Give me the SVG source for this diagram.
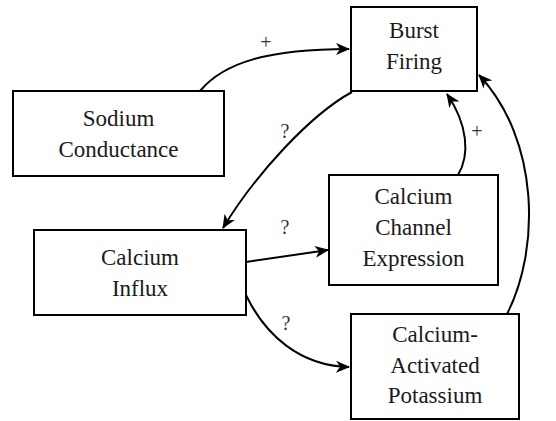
<svg xmlns="http://www.w3.org/2000/svg" width="556" height="421" viewBox="0 0 556 421">
<style>
.box{fill:#fff;stroke:#000;stroke-width:2}
.t{fill:#1a1a1a;text-anchor:middle;font-family:'Liberation Serif','Times New Roman','DejaVu Serif',serif;font-size:23px}
.lbl{fill:#333;text-anchor:middle;font-family:'Liberation Serif','Times New Roman','DejaVu Serif',serif;font-size:20px}
.edge{fill:none;stroke:#000;stroke-width:2;marker-end:url(#arr)}
</style>
<defs>
<marker id="arr" viewBox="0 0 14 12" refX="13" refY="6" markerWidth="14" markerHeight="12" markerUnits="userSpaceOnUse" orient="auto">
<path d="M0,0 L14,6 L0,12 L4,6 z" fill="#000"/>
</marker>
</defs>
<rect width="556" height="421" fill="#fff"/>
<g id="connectors">
<path class="edge" d="M200,91 C224,62 270,49 349,49"/>
<path class="edge" d="M352,92 C310,115 255,175 223,228"/>
<path class="edge" d="M246,262 L328,250"/>
<path class="edge" d="M246,295 C265,335 300,366 349,367"/>
<path class="edge" d="M458,175 C470,155 468,125 447,94"/>
<path class="edge" d="M507,314 C540,250 540,140 479,75"/>
<text class="lbl" x="266" y="49">+</text>
<text class="lbl" x="285" y="138">?</text>
<text class="lbl" x="285" y="234">?</text>
<text class="lbl" x="286" y="330">?</text>
<text class="lbl" x="477" y="138">+</text>
</g>
<g id="burst">
<rect class="box" x="351" y="7" width="126" height="84"/>
<text class="t" x="414" y="38">Burst</text>
<text class="t" x="414" y="69">Firing</text>
</g>
<g id="sodium">
<rect class="box" x="13" y="91" width="211" height="85"/>
<text class="t" x="118.5" y="126">Sodium</text>
<text class="t" x="118.5" y="157">Conductance</text>
</g>
<g id="channel">
<rect class="box" x="329" y="175" width="169" height="110"/>
<text class="t" x="413.5" y="204">Calcium</text>
<text class="t" x="413.5" y="235">Channel</text>
<text class="t" x="413.5" y="266">Expression</text>
</g>
<g id="influx">
<rect class="box" x="34" y="230" width="212" height="85"/>
<text class="t" x="140" y="265">Calcium</text>
<text class="t" x="140" y="296">Influx</text>
</g>
<g id="kca">
<rect class="box" x="351" y="314" width="168" height="105"/>
<text class="t" x="435" y="342">Calcium-</text>
<text class="t" x="435" y="373">Activated</text>
<text class="t" x="435" y="403">Potassium</text>
</g>
</svg>
